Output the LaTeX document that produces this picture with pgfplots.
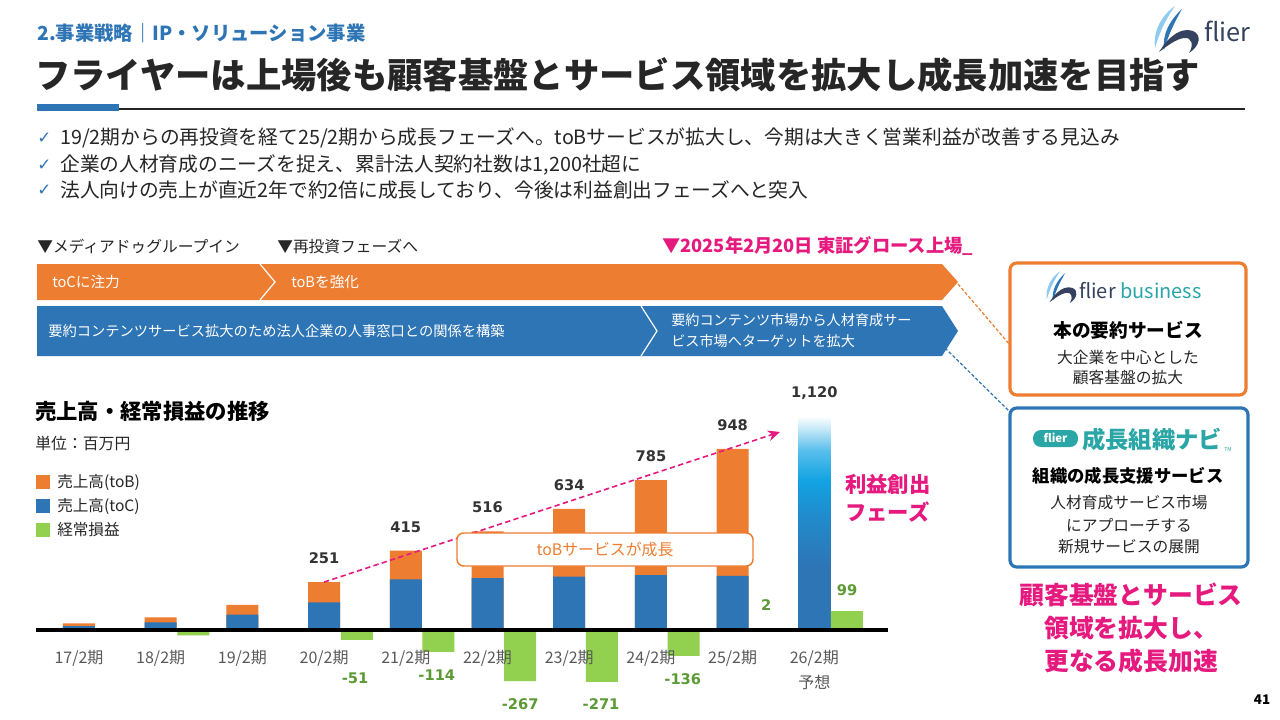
\documentclass[border=0pt]{standalone}
\usepackage{fontspec}
\setmainfont{Noto Sans CJK JP}
\newfontfamily\numfont{DejaVu Sans}
\usepackage{pgfplots}
\pgfplotsset{compat=1.18}
\usepackage{pgfplotstable}
\usetikzlibrary{arrows.meta}

\definecolor{hblue}{HTML}{2E75B6}
\definecolor{orng}{HTML}{ED7D31}
\definecolor{grn}{HTML}{92D050}
\definecolor{grntxt}{HTML}{5B9A34}
\definecolor{pink}{HTML}{E5197E}
\definecolor{dark}{HTML}{262626}
\definecolor{numgray}{HTML}{333333}
\definecolor{tickgray}{HTML}{595959}
\definecolor{teal}{HTML}{2BA6A6}
\definecolor{cyanb}{HTML}{12A3E3}
\definecolor{navy}{HTML}{34425F}
\definecolor{lblue}{HTML}{8FCBEF}

\newcommand\fs[1]{\fontsize{#1}{#1}\selectfont}

% forecast bar: dark blue at the foot, cyan higher up, white at the top
\pgfdeclareverticalshading{barshade}{100bp}{color(0bp)=(hblue); color(25bp)=(hblue);
  color(40bp)=(hblue); color(52bp)=(hblue!50!cyanb); color(60bp)=(cyanb);
  color(67bp)=(cyanb!70); color(72bp)=(cyanb!25); color(75bp)=(white); color(100bp)=(white)}

% revenue: total and toC part (toB = total - toC), million yen
\pgfplotstableread{
x total toC
0 35 20
1 66 40
2 132 80
3 251 145
4 415 265
5 516 272
6 634 279
7 785 288
8 948 283
}\revtable

% ordinary profit
\pgfplotstableread{
x profit
0 0
1 -28
2 0
3 -51
4 -114
5 -267
6 -271
7 -136
8 2
9 99
}\proftable

\newcommand\flierlogo{%
  \fill[lblue] (24,0) .. controls (10,10) and (2,25) .. (4,42) .. controls (8,28) and (14,14) .. (24,0);
  \fill[hblue] (31,3) .. controls (19,14) and (11,28) .. (13,44) .. controls (17,30) and (23,17) .. (31,3);
  \fill[navy] (8,46) .. controls (18,30) and (30,21) .. (42,25) .. controls (51,29) and (49,40) .. (38,47)
    .. controls (43,39) and (41,31) .. (33,32) .. controls (25,33) and (16,40) .. (8,46);
}

\begin{document}
\begin{tikzpicture}[font=\fs{12}]
% pixel grid of the slide: 1 px = 0.75 pt, y downwards
\begin{scope}[x=0.75pt, y=-0.75pt]
\path[use as bounding box, fill=white] (0,0) rectangle (1280,720);

% ---------- header ----------
\node[anchor=west, inner sep=0, text=hblue, font=\bfseries\fs{14.5}] at (37,33) {2.事業戦略｜IP・ソリューション事業};
\node[anchor=west, inner sep=0, text=dark, font=\bfseries\fs{26.5}] at (35,75) {フライヤーは上場後も顧客基盤とサービス領域を拡大し成長加速を目指す};
\fill[hblue] (37,104) rectangle (119,111);
\draw[dark, line width=1.2pt] (119,109) -- (1245,109);

\begin{scope}[shift={(1151,6)}]
  \flierlogo
\end{scope}
\node[anchor=west, inner sep=0, text=navy, font=\fs{19}] at (1204,31) {flier};

% ---------- bullets ----------
\node[anchor=west, inner sep=0, text=hblue, font=\numfont\fs{12.5}] at (37,138) {✓};
\node[anchor=west, inner sep=0, text=dark, font=\fs{14.8}] at (60,138) {19/2期からの再投資を経て25/2期から成長フェーズへ。toBサービスが拡大し、今期は大きく営業利益が改善する見込み};
\node[anchor=west, inner sep=0, text=hblue, font=\numfont\fs{12.5}] at (37,165) {✓};
\node[anchor=west, inner sep=0, text=dark, font=\fs{14.8}] at (60,165) {企業の人材育成のニーズを捉え、累計法人契約社数は1,200社超に};
\node[anchor=west, inner sep=0, text=hblue, font=\numfont\fs{12.5}] at (37,190) {✓};
\node[anchor=west, inner sep=0, text=dark, font=\fs{14.8}] at (60,190) {法人向けの売上が直近2年で約2倍に成長しており、今後は利益創出フェーズへと突入};

% ---------- timeline ----------
\node[anchor=west, inner sep=0, text=dark, font=\fs{11.8}] at (37,246) {▼メディアドゥグループイン};
\node[anchor=west, inner sep=0, text=dark, font=\fs{11.8}] at (277,246) {▼再投資フェーズへ};
\node[anchor=west, inner sep=0, text=pink, font=\bfseries\fs{13.7}] at (662,246) {▼2025年2月20日 東証グロース上場\_};

\fill[orng] (37,264) -- (942,264) -- (958,282) -- (942,300) -- (37,300) -- cycle;
\draw[white, line width=0.9pt] (260,264) -- (275,282) -- (260,300);
\node[anchor=west, inner sep=0, text=white, font=\fs{11}] at (52,282) {toCに注力};
\node[anchor=west, inner sep=0, text=white, font=\fs{11}] at (291,282) {toBを強化};

\fill[hblue] (37,306) -- (942,306) -- (958,331) -- (942,356) -- (37,356) -- cycle;
\draw[white, line width=0.9pt] (641,306) -- (657,331) -- (641,356);
\node[anchor=west, inner sep=0, text=white, font=\fs{10.7}] at (48,331) {要約コンテンツサービス拡大のため法人企業の人事窓口との関係を構築};
\node[anchor=west, inner sep=0, text=white, font=\fs{10.6}] at (671,320) {要約コンテンツ市場から人材育成サー};
\node[anchor=west, inner sep=0, text=white, font=\fs{10.6}] at (671,341) {ビス市場へターゲットを拡大};

\draw[orng, line width=0.9pt, dash pattern=on 2.5pt off 1.5pt] (958,284) -- (1010,345);
\draw[hblue, line width=0.9pt, dash pattern=on 2.5pt off 1.5pt] (945,348) -- (1010,412);

% ---------- right boxes ----------
\draw[orng, line width=2.4pt, rounded corners=5pt] (1010,263) rectangle (1246,395);
\begin{scope}[shift={(1044,271)}, scale=0.68]
  \flierlogo
\end{scope}
\node[anchor=west, inner sep=0, font=\fs{15}] at (1079,291) {\textcolor{navy}{flier} \textcolor{teal}{business}};
\node[text=black, font=\bfseries\fs{14}] at (1128,330) {本の要約サービス};
\node[text=dark, font=\fs{11.8}] at (1128,357) {大企業を中心とした};
\node[text=dark, font=\fs{11.8}] at (1128,378) {顧客基盤の拡大};

\draw[hblue, line width=2.4pt, rounded corners=5pt] (1010,408) rectangle (1248,567);
\fill[teal, rounded corners=6pt] (1033,430) rectangle (1078,447);
\node[text=white, font=\bfseries\fs{8.5}] at (1055.5,438) {flier};
\node[anchor=west, inner sep=0, text=teal, font=\bfseries\fs{17.5}] at (1082,440) {成長組織ナビ};
\node[text=teal, font=\fs{4}] at (1228,450) {TM};
\node[text=black, font=\bfseries\fs{13}] at (1128,476) {組織の成長支援サービス};
\node[text=dark, font=\fs{11.8}] at (1129,503) {人材育成サービス市場};
\node[text=dark, font=\fs{11.8}] at (1129,525) {にアプローチする};
\node[text=dark, font=\fs{11.8}] at (1129,547) {新規サービスの展開};

\node[text=pink, font=\bfseries\fs{18.6}] at (1131,595) {顧客基盤とサービス};
\node[text=pink, font=\bfseries\fs{18.6}] at (1131,628) {領域を拡大し、};
\node[text=pink, font=\bfseries\fs{18.6}] at (1131,661) {更なる成長加速};

\node[text=black, font=\bfseries\fs{10}] at (1262,700) {41};

% ---------- chart titles and legend ----------
\node[anchor=west, inner sep=0, text=black, font=\bfseries\fs{16}] at (35,411) {売上高・経常損益の推移};
\node[anchor=west, inner sep=0, text=dark, font=\fs{11.9}] at (35,443) {単位：百万円};
\fill[orng] (36,475) rectangle (50,489);
\node[anchor=west, inner sep=0, text=dark, font=\fs{11.7}] at (57,482) {売上高(toB)};
\fill[hblue] (36,499) rectangle (50,513);
\node[anchor=west, inner sep=0, text=dark, font=\fs{11.7}] at (57,506) {売上高(toC)};
\fill[grn] (36,523) rectangle (50,537);
\node[anchor=west, inner sep=0, text=dark, font=\fs{11.7}] at (57,530) {経常損益};

\node[anchor=west, inner sep=0, text=pink, font=\bfseries\fs{16}] at (845,484) {利益創出};
\node[anchor=west, inner sep=0, text=pink, font=\bfseries\fs{16}] at (845,512) {フェーズ};
\end{scope}

% ---------- chart ----------
\begin{axis}[
  at={(27pt,-515.475pt)}, anchor=south west,
  scale only axis, width=639pt, height=207.7pt,
  xmin=-0.526, xmax=9.902, ymin=-300, ymax=1150,
  enlargelimits=false,
  axis on top,
  axis x line*=middle, axis y line=none,
  hide obscured x ticks=false,
  x axis line style={line width=2.5pt, black},
  xtick={0,...,9},
  xticklabels={17/2期,18/2期,19/2期,20/2期,21/2期,22/2期,23/2期,24/2期,25/2期,{26/2期\\予想}},
  xticklabel style={anchor=north, inner sep=0pt, yshift=-15pt, align=center,
    font=\fontsize{12}{19}\selectfont, text=tickgray},
  major tick length=0pt,
  ytick=\empty,
  clip=false,
]
  \addplot[ybar, bar width=24pt, bar shift=0pt, fill=orng, draw=none] table[x=x, y=total] {\revtable};
  \addplot[ybar, bar width=24pt, bar shift=0pt, fill=hblue, draw=none] table[x=x, y=toC] {\revtable};
  \addplot[ybar, bar width=24pt, bar shift=0pt, draw=none, shade, shading=barshade] coordinates {(9,1120)};
  \addplot[ybar, bar width=24pt, bar shift=24.5pt, fill=grn, draw=none] table[x=x, y=profit] {\proftable};

  % totals above the bars
  \addplot[draw=none, mark=none, nodes near coords, point meta=explicit symbolic,
    every node near coord/.style={anchor=base, inner sep=0pt, yshift=14pt,
      font=\numfont\bfseries\fontsize{11}{11}\selectfont, text=numgray}]
    table[x=x, y=y, meta=lab] {
x y lab
3 251 251
4 415 415
5 516 516
6 634 634
7 785 785
8 948 948
9 1120 1,120
};

  % profit labels
  \begin{scope}[every node/.style={font=\numfont\bfseries\fontsize{11}{11}\selectfont, text=grntxt}]
    \node at (axis cs:3.38,-251) {-51};
    \node at (axis cs:4.38,-236) {-114};
    \node at (axis cs:5.40,-387) {-267};
    \node at (axis cs:6.39,-387) {-271};
    \node at (axis cs:7.39,-257) {-136};
    \node at (axis cs:8.41,131) {2};
    \node at (axis cs:9.40,209) {99};
  \end{scope}

  \draw[pink, line width=1.2pt, dash pattern=on 4pt off 2.5pt, -{Stealth[length=9pt, width=8pt]}]
    (axis cs:3,251) -- (axis cs:8.58,1037);
\end{axis}

\begin{scope}[x=0.75pt, y=-0.75pt]
\draw[orng, line width=1.1pt, fill=white, rounded corners=5pt] (457,533) rectangle (753,566);
\node[text=orng, font=\fs{11.9}] at (605,549.5) {toBサービスが成長};
\end{scope}

\end{tikzpicture}
\end{document}
